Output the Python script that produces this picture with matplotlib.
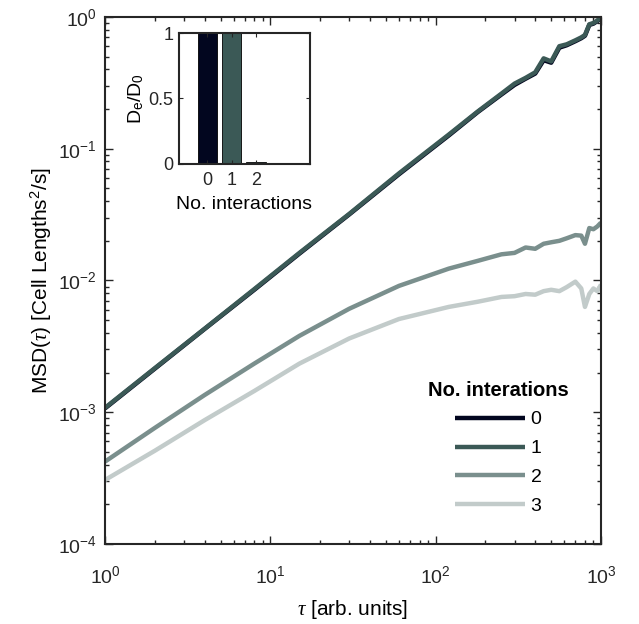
import numpy as np
import matplotlib
matplotlib.use('Agg')
import matplotlib.pyplot as plt
from matplotlib.ticker import LogLocator, NullFormatter

plt.rcParams['font.family'] = ['Liberation Sans', 'DejaVu Sans']
plt.rcParams['mathtext.fontset'] = 'custom'
plt.rcParams['mathtext.rm'] = 'Liberation Sans'
plt.rcParams['mathtext.it'] = 'Liberation Serif:italic'
plt.rcParams['mathtext.bf'] = 'Liberation Sans:bold'

# lag times and MSD curves
tau = [1, 2, 4, 8, 15, 30, 60, 120, 180, 250, 300, 350, 400, 450, 500,
       560, 620, 700, 760, 800, 850, 900, 950, 1000]
msd_0 = [1.07e-3, 2.14e-3, 4.28e-3, 8.5e-3, 1.6e-2, 3.17e-2, 6.4e-2, 0.126, 0.19,
         0.258, 0.305, 0.34, 0.372, 0.47, 0.45, 0.585, 0.61, 0.655, 0.69, 0.72,
         0.87, 0.89, 0.93, 0.98]
msd_1 = [1.08e-3, 2.16e-3, 4.3e-3, 8.6e-3, 1.62e-2, 3.2e-2, 6.5e-2, 0.128, 0.192,
         0.262, 0.312, 0.345, 0.38, 0.485, 0.46, 0.60, 0.62, 0.665, 0.70, 0.73,
         0.88, 0.90, 0.94, 0.99]
msd_2 = [4.22e-4, 7.6e-4, 1.35e-3, 2.34e-3, 3.8e-3, 6.1e-3, 9.1e-3, 1.23e-2, 1.41e-2,
         1.58e-2, 1.62e-2, 1.78e-2, 1.74e-2, 1.9e-2, 1.95e-2, 2.0e-2, 2.09e-2, 2.21e-2,
         2.19e-2, 1.9e-2, 2.5e-2, 2.45e-2, 2.57e-2, 2.75e-2]
msd_3 = [3.06e-4, 5.1e-4, 8.7e-4, 1.45e-3, 2.34e-3, 3.63e-3, 5.1e-3, 6.3e-3, 6.9e-3,
         7.5e-3, 7.6e-3, 7.9e-3, 7.8e-3, 8.3e-3, 8.5e-3, 8.3e-3, 8.9e-3, 9.8e-3,
         8.7e-3, 6.3e-3, 7.9e-3, 8.7e-3, 8.3e-3, 9.3e-3]
series_labels = ['0', '1', '2', '3']
colors = ['#02061f', '#3b5956', '#7a8f8d', '#c2cbca']

# inset: effective diffusion ratio
n_inter = [0, 1, 2, 3]
de_ratio = [1.0, 1.0, 0.012, 0.003]
inset_ticks = [0, 1, 2]

fig = plt.figure(figsize=(6.39, 6.24), dpi=100)
ax = fig.add_axes([0.1643, 0.1282, 0.7762, 0.8446])
for y, c, lab in zip([msd_0, msd_1, msd_2, msd_3], colors, series_labels):
    ax.plot(tau, y, color=c, linewidth=3.2, label=lab, solid_capstyle='butt')
ax.set_xscale('log')
ax.set_yscale('log')
ax.set_xlim(1, 1000)
ax.set_ylim(1e-4, 1)
ax.xaxis.set_major_locator(LogLocator(base=10, numticks=10))
ax.yaxis.set_major_locator(LogLocator(base=10, numticks=10))
ax.xaxis.set_minor_locator(LogLocator(base=10, subs=np.arange(2, 10), numticks=20))
ax.yaxis.set_minor_locator(LogLocator(base=10, subs=np.arange(2, 10), numticks=20))
ax.xaxis.set_minor_formatter(NullFormatter())
ax.yaxis.set_minor_formatter(NullFormatter())
ax.tick_params(which='both', direction='in', top=True, right=True, labelsize=14,
               colors='#262626', width=1.0)
ax.tick_params(which='major', length=6)
ax.tick_params(which='minor', length=3)
ax.tick_params(axis='x', which='major', pad=15)
ax.tick_params(axis='y', which='major', pad=6)
for s in ax.spines.values():
    s.set_linewidth(1.5)
    s.set_color('#262626')
ax.set_xlabel(r'$\tau$ [arb. units]', fontsize=15, labelpad=8)
ax.set_ylabel(r'MSD($\tau$) [Cell Lengths$^2$/s]', fontsize=15, labelpad=3)
leg = ax.legend(loc='lower right', bbox_to_anchor=(0.95, 0.04), frameon=False,
                title='No. interations', fontsize=14, handlelength=3.6,
                handletextpad=0.3, labelspacing=0.58, borderaxespad=0,
                title_fontproperties={'weight': 'bold', 'size': 14.5})

# inset bar chart
ins = fig.add_axes([0.2801, 0.7372, 0.2050, 0.2099])
ins.bar(n_inter, de_ratio, width=0.8, color=colors, edgecolor='black', linewidth=0.6)
ins.set_xlim(-1.17, 4.23)
ins.set_ylim(0, 1)
ins.set_xticks(inset_ticks)
ins.set_yticks([0, 0.5, 1])
ins.set_yticklabels(['0', '0.5', '1'])
ins.tick_params(direction='in', top=True, right=True, labelsize=13, length=3,
                colors='#262626')
ins.tick_params(axis='x', pad=6)
ins.tick_params(axis='y', pad=4)
for s in ins.spines.values():
    s.set_linewidth(1.5)
    s.set_color('#262626')
ins.set_xlabel('No. interactions', fontsize=14, labelpad=5)
ins.set_ylabel(r'D$_{\rm e}$/D$_{\rm 0}$', fontsize=14, labelpad=2)

fig.savefig('out.png', dpi=100)
